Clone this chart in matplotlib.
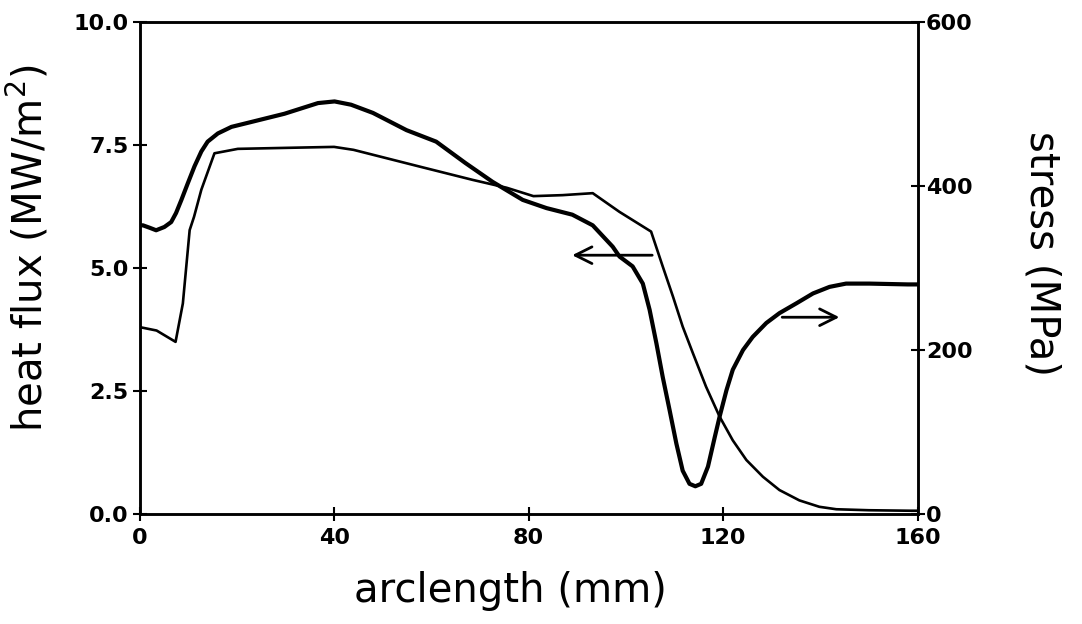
import numpy as np
import matplotlib.pyplot as plt

# heat flux along the arclength (left axis)
hf_x = [0, 3.5, 7.4, 8.9, 10.3, 11.2, 12.7, 15.4, 20.2, 30, 40, 44, 48, 58, 68.5,
        75.5, 81, 87, 93.2, 98.7, 105.2, 107.6, 109.7, 111.7, 113.8, 116.5,
        119.3, 122.0, 124.8, 128.2, 131.6, 135.7, 139.8, 143.3, 150, 158.4, 160]
heat_flux = [3.80, 3.73, 3.50, 4.28, 5.77, 6.04, 6.59, 7.33, 7.42, 7.44, 7.46,
             7.40, 7.30, 7.05, 6.79, 6.63, 6.46, 6.48, 6.52, 6.14, 5.74, 5.03,
             4.42, 3.81, 3.27, 2.59, 1.98, 1.50, 1.10, 0.76, 0.49, 0.28, 0.15,
             0.10, 0.08, 0.07, 0.07]

# stress along the arclength (right axis)
st_x = [0, 0.7, 2.1, 3.4, 5.1, 6.5, 7.5, 8.6, 9.9, 11.3, 12.7, 14.0, 16.1, 18.9,
        23.0, 29.8, 36.7, 40.1, 43.5, 48, 54.9, 61, 67, 72.6, 78.8, 83.7, 89,
        93.2, 97.3, 98.7, 101.4, 103.5, 104.9, 106.3, 107.6, 109.0, 110.4,
        111.7, 113.1, 114.3, 115.5, 116.9, 118.3, 119.3, 120.7, 122.0, 124.1,
        126.1, 128.9, 131.6, 135.1, 138.5, 141.9, 145.3, 150.1, 158, 160]
stress = [352, 352, 349, 346, 350, 356, 367, 383, 403, 424, 442, 454, 464, 472,
          478, 488, 501, 503, 499, 489, 468, 454, 428, 405, 383, 373, 365,
          352, 326, 314, 302, 281, 249, 208, 167, 127, 86,
          53, 37, 34, 37, 58, 94, 119, 151, 176, 200,
          216, 233, 245, 257, 269, 277, 281, 281, 280, 280]

x_ticks = [0, 40, 80, 120, 160]
hf_ticks = [0.0, 2.5, 5.0, 7.5, 10.0]
st_ticks = [0, 200, 400, 600]

fig = plt.figure(figsize=(10.82, 6.24), dpi=100)
ax = fig.add_axes([0.129, 0.176, 0.719, 0.789])
ax2 = ax.twinx()

ax.plot(hf_x, heat_flux, color='black', lw=1.9)
ax2.plot(st_x, stress, color='black', lw=3.0)

ax.set_xlim(0, 160)
ax.set_ylim(0, 10)
ax2.set_ylim(0, 600)

ax.set_xticks(x_ticks)
ax.set_xticklabels([str(v) for v in x_ticks])
ax.set_yticks(hf_ticks)
ax.set_yticklabels(['%.1f' % v for v in hf_ticks])
ax2.set_yticks(st_ticks)
ax2.set_yticklabels([str(v) for v in st_ticks])

for a in (ax, ax2):
    for s in a.spines.values():
        s.set_linewidth(1.8)
    a.tick_params(direction='inout', length=10, width=1.5, labelsize=16)
    for lbl in a.get_xticklabels() + a.get_yticklabels():
        lbl.set_fontweight('bold')
ax.tick_params(axis='y', pad=3)
ax.tick_params(axis='x', pad=5)
ax2.tick_params(axis='y', pad=1)

ax.set_xlabel('arclength (mm)', fontsize=29)
ax.xaxis.set_label_coords(0.477, -0.115)
ax.set_ylabel('heat flux (MW/m$^2$)', fontsize=29)
ax.yaxis.set_label_coords(-0.113, 0.54)
ax2.set_ylabel('stress (MPa)', fontsize=29, rotation=-90, va='bottom')
ax2.yaxis.set_label_coords(1.134, 0.53)

# arrows showing which axis each curve uses
ax.annotate('', xy=(88.4, 5.26), xytext=(106, 5.26),
            arrowprops=dict(arrowstyle='->', lw=2, mutation_scale=30, color='black'))
ax.annotate('', xy=(144.5, 4.0), xytext=(131.6, 4.0),
            arrowprops=dict(arrowstyle='->', lw=2, mutation_scale=30, color='black'))

fig.savefig('out.png', dpi=100)
